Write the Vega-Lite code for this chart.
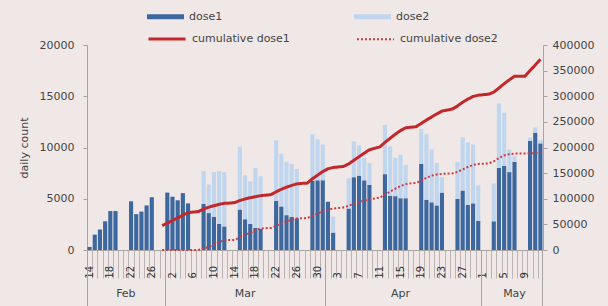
{
  "$schema": "https://vega.github.io/schema/vega-lite/v6.json",
  "width": 456,
  "height": 205,
  "autosize": "none",
  "padding": {"left": 87, "top": 45, "right": 65, "bottom": 56},
  "background": "#f0e8e6",
  "config": {
    "view": {"stroke": null},
    "font": "DejaVu Sans",
    "axis": {"grid": false, "labelColor": "#444444", "titleColor": "#444444", "domainColor": "#a8a4a4", "tickColor": "#a8a4a4"},
    "legend": {"padding": 0, "labelColor": "#444444", "labelFontSize": 11}
  },
  "data": {"values": [
    {"date": "2021-02-14", "dose1": 300, "dose2": 0},
    {"date": "2021-02-15", "dose1": 1500, "dose2": 0},
    {"date": "2021-02-16", "dose1": 2000, "dose2": 0},
    {"date": "2021-02-17", "dose1": 2800, "dose2": 0},
    {"date": "2021-02-18", "dose1": 3800, "dose2": 0},
    {"date": "2021-02-19", "dose1": 3800, "dose2": 0},
    {"date": "2021-02-20", "dose1": 0, "dose2": 0},
    {"date": "2021-02-21", "dose1": 0, "dose2": 0},
    {"date": "2021-02-22", "dose1": 4750, "dose2": 0},
    {"date": "2021-02-23", "dose1": 3500, "dose2": 0},
    {"date": "2021-02-24", "dose1": 3750, "dose2": 0},
    {"date": "2021-02-25", "dose1": 4350, "dose2": 0},
    {"date": "2021-02-26", "dose1": 5150, "dose2": 0},
    {"date": "2021-02-27", "dose1": 0, "dose2": 0},
    {"date": "2021-02-28", "dose1": 0, "dose2": 0, "cum1": 47500, "cum2": 0},
    {"date": "2021-03-01", "dose1": 5600, "dose2": 0, "cum1": 52500, "cum2": 0},
    {"date": "2021-03-02", "dose1": 5200, "dose2": 0, "cum1": 57500, "cum2": 0},
    {"date": "2021-03-03", "dose1": 4850, "dose2": 0, "cum1": 62500, "cum2": 0},
    {"date": "2021-03-04", "dose1": 5550, "dose2": 0, "cum1": 68000, "cum2": 0},
    {"date": "2021-03-05", "dose1": 4550, "dose2": 0, "cum1": 73000, "cum2": 0},
    {"date": "2021-03-06", "dose1": 0, "dose2": 0, "cum1": 74000, "cum2": 0},
    {"date": "2021-03-07", "dose1": 0, "dose2": 0, "cum1": 75000, "cum2": 0},
    {"date": "2021-03-08", "dose1": 4500, "dose2": 3200, "cum1": 80000, "cum2": 3000},
    {"date": "2021-03-09", "dose1": 3600, "dose2": 2800, "cum1": 83500, "cum2": 6000},
    {"date": "2021-03-10", "dose1": 3250, "dose2": 4350, "cum1": 86500, "cum2": 10000},
    {"date": "2021-03-11", "dose1": 2550, "dose2": 5150, "cum1": 89000, "cum2": 15000},
    {"date": "2021-03-12", "dose1": 2300, "dose2": 5300, "cum1": 91000, "cum2": 19500},
    {"date": "2021-03-13", "dose1": 0, "dose2": 0, "cum1": 91500, "cum2": 19500},
    {"date": "2021-03-14", "dose1": 0, "dose2": 0, "cum1": 92500, "cum2": 19500},
    {"date": "2021-03-15", "dose1": 3950, "dose2": 6150, "cum1": 96500, "cum2": 25000},
    {"date": "2021-03-16", "dose1": 3000, "dose2": 4300, "cum1": 99500, "cum2": 29500},
    {"date": "2021-03-17", "dose1": 2550, "dose2": 4150, "cum1": 102000, "cum2": 33500},
    {"date": "2021-03-18", "dose1": 2150, "dose2": 5850, "cum1": 104000, "cum2": 38500},
    {"date": "2021-03-19", "dose1": 2050, "dose2": 5150, "cum1": 106000, "cum2": 42000},
    {"date": "2021-03-20", "dose1": 0, "dose2": 0, "cum1": 107000, "cum2": 42500},
    {"date": "2021-03-21", "dose1": 0, "dose2": 0, "cum1": 108000, "cum2": 43000},
    {"date": "2021-03-22", "dose1": 4800, "dose2": 5900, "cum1": 113500, "cum2": 47000},
    {"date": "2021-03-23", "dose1": 4250, "dose2": 5150, "cum1": 118500, "cum2": 51500},
    {"date": "2021-03-24", "dose1": 3400, "dose2": 5200, "cum1": 122500, "cum2": 55500},
    {"date": "2021-03-25", "dose1": 3250, "dose2": 5150, "cum1": 126000, "cum2": 59000},
    {"date": "2021-03-26", "dose1": 3100, "dose2": 4800, "cum1": 129000, "cum2": 61500},
    {"date": "2021-03-27", "dose1": 0, "dose2": 0, "cum1": 130000, "cum2": 62000},
    {"date": "2021-03-28", "dose1": 0, "dose2": 0, "cum1": 130500, "cum2": 62500},
    {"date": "2021-03-29", "dose1": 6750, "dose2": 4550, "cum1": 139000, "cum2": 66500},
    {"date": "2021-03-30", "dose1": 6800, "dose2": 4000, "cum1": 146000, "cum2": 71000},
    {"date": "2021-03-31", "dose1": 6800, "dose2": 3500, "cum1": 153000, "cum2": 75500},
    {"date": "2021-04-01", "dose1": 4700, "dose2": 0, "cum1": 158500, "cum2": 78500},
    {"date": "2021-04-02", "dose1": 1700, "dose2": 1550, "cum1": 161000, "cum2": 81000},
    {"date": "2021-04-03", "dose1": 0, "dose2": 0, "cum1": 162000, "cum2": 82000},
    {"date": "2021-04-04", "dose1": 0, "dose2": 0, "cum1": 163000, "cum2": 83000},
    {"date": "2021-04-05", "dose1": 4050, "dose2": 2950, "cum1": 168000, "cum2": 86500},
    {"date": "2021-04-06", "dose1": 7100, "dose2": 3500, "cum1": 175000, "cum2": 90000},
    {"date": "2021-04-07", "dose1": 7250, "dose2": 2950, "cum1": 182000, "cum2": 93500},
    {"date": "2021-04-08", "dose1": 6800, "dose2": 2200, "cum1": 189000, "cum2": 96000},
    {"date": "2021-04-09", "dose1": 6350, "dose2": 2150, "cum1": 195500, "cum2": 98500},
    {"date": "2021-04-10", "dose1": 0, "dose2": 0, "cum1": 198500, "cum2": 100500},
    {"date": "2021-04-11", "dose1": 0, "dose2": 0, "cum1": 201000, "cum2": 102500},
    {"date": "2021-04-12", "dose1": 7400, "dose2": 4800, "cum1": 210000, "cum2": 108000},
    {"date": "2021-04-13", "dose1": 5300, "dose2": 4800, "cum1": 218000, "cum2": 114000},
    {"date": "2021-04-14", "dose1": 5250, "dose2": 3750, "cum1": 226000, "cum2": 119500},
    {"date": "2021-04-15", "dose1": 5050, "dose2": 4250, "cum1": 233000, "cum2": 124500},
    {"date": "2021-04-16", "dose1": 5050, "dose2": 3250, "cum1": 238500, "cum2": 128500},
    {"date": "2021-04-17", "dose1": 0, "dose2": 0, "cum1": 239500, "cum2": 130000},
    {"date": "2021-04-18", "dose1": 0, "dose2": 0, "cum1": 240500, "cum2": 131000},
    {"date": "2021-04-19", "dose1": 8400, "dose2": 3400, "cum1": 247000, "cum2": 135000},
    {"date": "2021-04-20", "dose1": 4900, "dose2": 6400, "cum1": 253500, "cum2": 141000},
    {"date": "2021-04-21", "dose1": 4650, "dose2": 5150, "cum1": 259500, "cum2": 145000},
    {"date": "2021-04-22", "dose1": 4350, "dose2": 4150, "cum1": 265500, "cum2": 147500},
    {"date": "2021-04-23", "dose1": 5600, "dose2": 1500, "cum1": 271000, "cum2": 148500},
    {"date": "2021-04-24", "dose1": 0, "dose2": 0, "cum1": 273000, "cum2": 149000},
    {"date": "2021-04-25", "dose1": 0, "dose2": 0, "cum1": 275000, "cum2": 149500},
    {"date": "2021-04-26", "dose1": 5000, "dose2": 3600, "cum1": 281000, "cum2": 152500},
    {"date": "2021-04-27", "dose1": 5800, "dose2": 5200, "cum1": 288500, "cum2": 157000},
    {"date": "2021-04-28", "dose1": 4400, "dose2": 6100, "cum1": 294500, "cum2": 162000},
    {"date": "2021-04-29", "dose1": 4550, "dose2": 5750, "cum1": 299500, "cum2": 166000},
    {"date": "2021-04-30", "dose1": 2850, "dose2": 3450, "cum1": 302000, "cum2": 168000},
    {"date": "2021-05-01", "dose1": 0, "dose2": 0, "cum1": 303000, "cum2": 168500},
    {"date": "2021-05-02", "dose1": 0, "dose2": 0, "cum1": 304000, "cum2": 169000},
    {"date": "2021-05-03", "dose1": 2800, "dose2": 3700, "cum1": 308000, "cum2": 173000},
    {"date": "2021-05-04", "dose1": 8000, "dose2": 6300, "cum1": 316000, "cum2": 179500},
    {"date": "2021-05-05", "dose1": 8200, "dose2": 5200, "cum1": 324500, "cum2": 184500},
    {"date": "2021-05-06", "dose1": 7600, "dose2": 2200, "cum1": 332000, "cum2": 187000},
    {"date": "2021-05-07", "dose1": 8600, "dose2": 600, "cum1": 339000, "cum2": 188000},
    {"date": "2021-05-08", "dose1": 0, "dose2": 0, "cum1": 339000, "cum2": 188500},
    {"date": "2021-05-09", "dose1": 0, "dose2": 0, "cum1": 339000, "cum2": 188500},
    {"date": "2021-05-10", "dose1": 10650, "dose2": 300, "cum1": 350000, "cum2": 188700},
    {"date": "2021-05-11", "dose1": 11450, "dose2": 500, "cum1": 361000, "cum2": 189000},
    {"date": "2021-05-12", "dose1": 10400, "dose2": 300, "cum1": 372000, "cum2": 189200}
  ]},
  "layer": [
    {
      "transform": [{"fold": ["dose1", "dose2"], "as": ["dose", "count"]}],
      "mark": {"type": "bar"},
      "encoding": {
        "x": {
          "field": "date", "type": "ordinal",
          "scale": {"paddingInner": 0.2, "paddingOuter": 0.1},
          "axis": {
            "title": null,
            "labelExpr": "round((toDate(datum.value) - toDate('2021-02-14')) / 864e5) % 4 == 0 ? (toNumber(slice(datum.value, 8)) < 10 ? '\u00a0\u00a0\u00a0\u00a0\u00a0' : '\u00a0\u00a0\u00a0') + toNumber(slice(datum.value, 8)) : ''",
            "labelAngle": -90, "labelAlign": "left", "labelBaseline": "middle",
            "labelOverlap": false, "bandPosition": 0,
            "tickSize": 28, "labelPadding": 0,
            "tickColor": "#bab4b4", "labelFontSize": 10, "labelColor": "#333333"
          }
        },
        "y": {
          "field": "count", "type": "quantitative", "stack": "zero",
          "scale": {"domain": [0, 20000]},
          "axis": {
            "orient": "left", "title": "daily count", "values": [0, 5000, 10000, 15000, 20000],
            "format": "d", "tickSize": 4, "labelPadding": 9, "labelFontSize": 11,
            "titleFontSize": 11, "titleFontWeight": "normal", "titlePadding": 10
          }
        },
        "order": {"field": "dose", "sort": "ascending"},
        "fill": {
          "field": "dose", "type": "nominal",
          "scale": {"domain": ["dose1", "dose2"], "range": ["#3d689f", "#c0d6ee"]},
          "legend": {
            "title": null, "orient": "none", "legendX": 60, "legendY": -47,
            "direction": "horizontal",
            "symbolType": "M-1,-0.14L1,-0.14L1,0.14L-1,0.14Z", "symbolSize": 1369,
            "symbolStrokeWidth": 0, "labelOffset": 5, "columnPadding": 131
          }
        }
      }
    },
    {
      "transform": [{"fold": ["cum1", "cum2"], "as": ["series", "cum"]}],
      "mark": {"type": "line"},
      "encoding": {
        "x": {
          "field": "date", "type": "ordinal",
          "axis": {
            "orient": "bottom", "title": null, "domain": false, "labels": false,
            "values": ["2021-02-14", "2021-03-01", "2021-04-01", "2021-05-01"],
            "bandPosition": 0, "tickSize": 56, "tickColor": "#a8a4a4"
          }
        },
        "y": {
          "field": "cum", "type": "quantitative",
          "scale": {"domain": [0, 400000]},
          "axis": {
            "orient": "right", "title": null,
            "values": [0, 50000, 100000, 150000, 200000, 250000, 300000, 350000, 400000],
            "format": "d", "tickSize": 4, "labelPadding": 5, "labelFontSize": 11
          }
        },
        "stroke": {
          "field": "series", "type": "nominal",
          "scale": {"domain": ["cum1", "cum2"], "range": ["#c3272b", "#cf3a3e"]},
          "legend": {
            "title": null, "orient": "none", "legendX": 60, "legendY": -26,
            "direction": "horizontal", "symbolType": "stroke", "symbolSize": 1369,
            "symbolStrokeWidth": 2.5, "labelOffset": 5, "columnPadding": 63,
            "labelExpr": "datum.label == 'cum1' ? 'cumulative dose1' : 'cumulative dose2'"
          }
        },
        "strokeDash": {
          "field": "series", "type": "nominal",
          "scale": {"domain": ["cum1", "cum2"], "range": [[1, 0], [2, 2]]},
          "legend": {
            "title": null, "orient": "none", "legendX": 60, "legendY": -26,
            "direction": "horizontal", "symbolType": "stroke", "symbolSize": 1369,
            "symbolStrokeWidth": 2.5, "labelOffset": 5, "columnPadding": 63,
            "labelExpr": "datum.label == 'cum1' ? 'cumulative dose1' : 'cumulative dose2'"
          }
        },
        "strokeWidth": {
          "field": "series", "type": "nominal",
          "scale": {"domain": ["cum1", "cum2"], "range": [3, 2]},
          "legend": null
        }
      }
    },
    {
      "mark": {"type": "rule", "opacity": 0},
      "encoding": {
        "x": {
          "field": "date", "type": "ordinal",
          "axis": {
            "orient": "bottom", "title": null, "domain": false,
            "values": ["2021-02-21", "2021-03-16", "2021-04-15", "2021-05-07"],
            "labelExpr": "datum.value == '2021-02-21' ? 'Feb' : datum.value == '2021-03-16' ? 'Mar' : datum.value == '2021-04-15' ? 'Apr' : 'May'",
            "tickSize": 37, "tickOpacity": 0, "labelPadding": 0, "labelBaseline": "top",
            "labelAngle": 0, "labelAlign": "center", "labelFontSize": 11, "labelOverlap": false
          }
        }
      }
    },
    {
      "mark": {"type": "rule", "opacity": 0},
      "encoding": {
        "x": {
          "field": "date", "type": "ordinal",
          "axis": {
            "orient": "bottom", "title": null, "domain": false, "labels": false,
            "values": ["2021-05-12"], "bandPosition": 1,
            "tickSize": 56, "tickColor": "#a8a4a4"
          }
        }
      }
    }
  ],
  "resolve": {"scale": {"y": "independent"}, "axis": {"x": "independent"}}
}
